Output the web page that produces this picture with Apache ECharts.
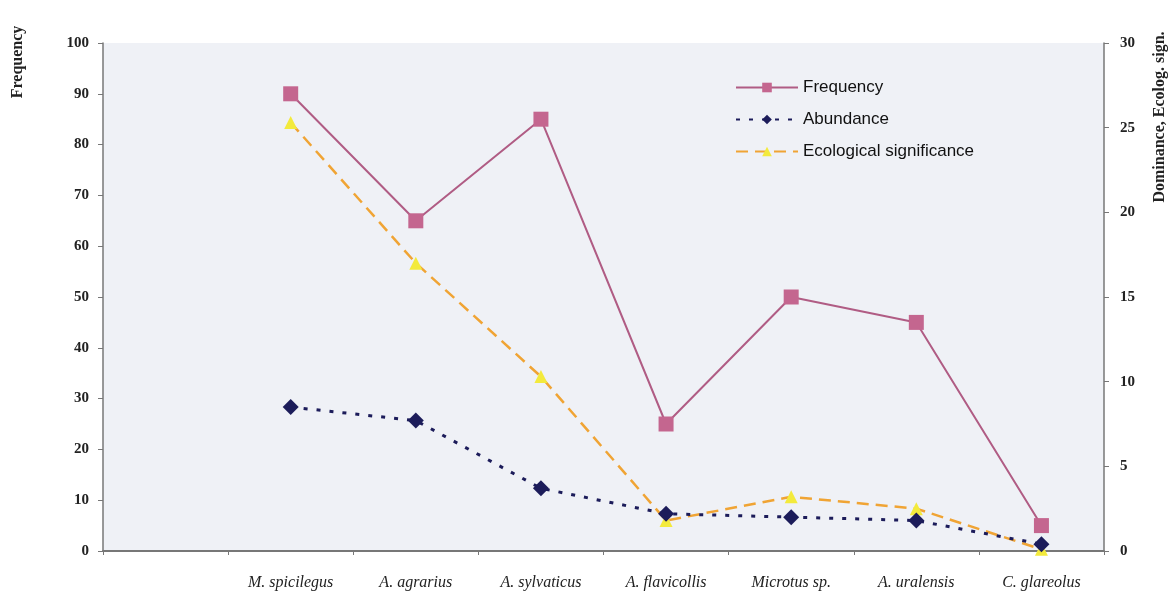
<!DOCTYPE html>
<html>
<head>
<meta charset="utf-8">
<script src="https://cdn.jsdelivr.net/npm/echarts@6/dist/echarts.min.js"></script>
<style>html,body{margin:0;padding:0;background:#fff;}#c{width:1170px;height:595px;}</style>
</head>
<body>
<div id="c"></div>
<script>
const categories = ['', 'M. spicilegus', 'A. agrarius', 'A. sylvaticus', 'A. flavicollis', 'Microtus sp.', 'A. uralensis', 'C. glareolus'];
const frequency = [null, 90, 65, 85, 25, 50, 45, 5];
const abundance = [null, 8.5, 7.7, 3.7, 2.2, 2.0, 1.8, 0.4];
const ecoSignificance = [null, 25.3, 17.0, 10.3, 1.8, 3.2, 2.5, 0.1];
const leftTicks = [0, 10, 20, 30, 40, 50, 60, 70, 80, 90, 100];
const rightTicks = [0, 5, 10, 15, 20, 25, 30];

const serif = '"Liberation Serif", "DejaVu Serif", serif';
const chart = echarts.init(document.getElementById('c'));
chart.setOption({
  animation: false,
  backgroundColor: '#ffffff',
  grid: { left: 103, right: 66, top: 43, bottom: 44, show: true, backgroundColor: '#eff1f6', borderWidth: 0 },
  legend: {
    orient: 'vertical', left: 730, top: 74, itemWidth: 62, itemHeight: 12, itemGap: 15,
    textStyle: { fontFamily: '"Liberation Sans", Arial, sans-serif', fontSize: 17, color: '#111' },
    data: ['Frequency', 'Abundance', 'Ecological significance']
  },
  xAxis: {
    type: 'category', data: categories, boundaryGap: true,
    axisLine: { lineStyle: { color: '#777', width: 2 } },
    axisTick: { show: true, alignWithLabel: false, length: 4, inside: false, lineStyle: { color: '#777' } },
    axisLabel: { margin: 24, fontFamily: serif, fontStyle: 'italic', fontSize: 16, color: '#222', interval: 0 },
    splitLine: { show: false }
  },
  yAxis: [
    {
      type: 'value', min: 0, max: 100, interval: 10, position: 'left',
      axisLine: { show: true, lineStyle: { color: '#777', width: 1.5 } },
      axisTick: { show: true, length: 5, lineStyle: { color: '#777' } },
      axisLabel: { margin: 14, fontFamily: serif, fontWeight: 'bold', fontSize: 15, color: '#222',
        formatter: v => leftTicks.includes(v) ? String(v) : '' },
      splitLine: { show: false }
    },
    {
      type: 'value', min: 0, max: 30, interval: 5, position: 'right',
      axisLine: { show: true, lineStyle: { color: '#777', width: 1.5 } },
      axisTick: { show: true, length: 5, lineStyle: { color: '#777' } },
      axisLabel: { margin: 16, fontFamily: serif, fontWeight: 'bold', fontSize: 15, color: '#222',
        formatter: v => rightTicks.includes(v) ? String(v) : '' },
      splitLine: { show: false }
    }
  ],
  graphic: [
    { type: 'text', x: 18, y: 62, rotation: Math.PI / 2,
      style: { text: 'Frequency', fontFamily: serif, fontWeight: 'bold', fontSize: 16, fill: '#222', align: 'center', verticalAlign: 'middle' } },
    { type: 'text', x: 1160, y: 117, rotation: Math.PI / 2,
      style: { text: 'Dominance, Ecolog. sign.', fontFamily: serif, fontWeight: 'bold', fontSize: 16, fill: '#222', align: 'center', verticalAlign: 'middle' } }
  ],
  series: [
    {
      name: 'Ecological significance', type: 'line', yAxisIndex: 1, data: ecoSignificance,
      symbol: 'triangle', symbolSize: 13,
      lineStyle: { color: '#f0a434', width: 2.5, type: [12, 7] },
      itemStyle: { color: '#f3ea3c' }
    },
    {
      name: 'Abundance', type: 'line', yAxisIndex: 1, data: abundance,
      symbol: 'diamond', symbolSize: 16,
      lineStyle: { color: '#1c1c5a', width: 3, type: [4, 9] },
      itemStyle: { color: '#1c1c5a' }
    },
    {
      name: 'Frequency', type: 'line', yAxisIndex: 0, data: frequency,
      symbol: 'rect', symbolSize: 15,
      lineStyle: { color: '#b05c84', width: 2 },
      itemStyle: { color: '#c4668f' }
    }
  ]
});
</script>
</body>
</html>
